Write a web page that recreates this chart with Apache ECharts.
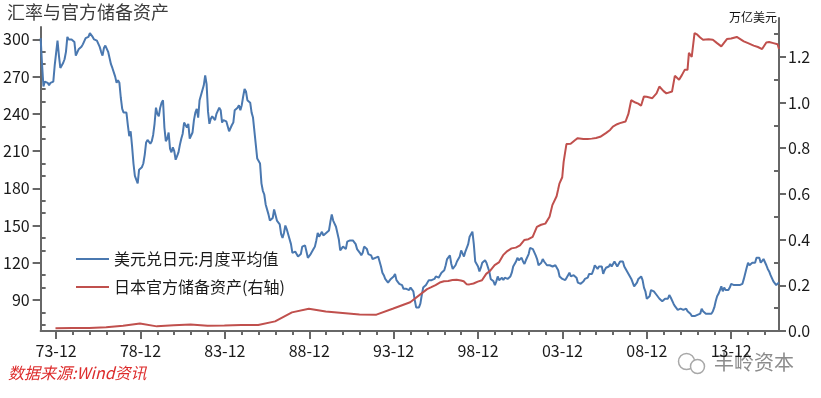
<!DOCTYPE html>
<html>
<head>
<meta charset="utf-8">
<script src="https://cdn.jsdelivr.net/npm/echarts@6/dist/echarts.min.js"></script>
<style>
  html, body { margin: 0; padding: 0; background: #fff; }
  #chart { width: 821px; height: 398px; }
</style>
</head>
<body>
<div id="chart"></div>
<script>
// 月度类目 1973-01 ~ 2016-10
const firstYear = 1973
const lastYear = 2016
const lastMonthOfLastYear = 10
const months = []
for (let y = firstYear; y <= lastYear; y++) {
  for (let m = 1; m <= 12; m++) {
    if (y === lastYear && m > lastMonthOfLastYear) break
    months.push(y + '-' + (m < 10 ? '0' + m : m))
  }
}

// 美元兑日元:月度平均值 (每行一年)
const usdJpy = [].concat(
  [301, 280, 262, 266, 265, 265, 263, 265, 266, 266, 279, 280],
  [299, 287, 277, 279, 281, 284, 290, 302, 300, 299, 300, 300],
  [298, 287, 287, 292, 291, 294, 296, 297, 301, 302, 302, 305],
  [304, 302, 300, 299, 299, 298, 294, 290, 287, 293, 295, 295],
  [290, 285, 280, 277, 277, 270, 265, 267, 265, 253, 244, 241],
  [242, 241, 231, 222, 226, 214, 200, 190, 189, 184, 195, 196],
  [197, 200, 207, 217, 219, 218, 216, 218, 223, 232, 245, 240],
  [238, 245, 249, 251, 229, 218, 220, 225, 212, 209, 213, 210],
  [203, 206, 209, 215, 220, 224, 233, 234, 229, 232, 220, 219],
  [225, 235, 241, 244, 237, 251, 255, 259, 263, 271, 264, 242],
  [232, 236, 238, 238, 235, 240, 240, 245, 243, 233, 235, 234],
  [234, 233, 226, 225, 231, 233, 243, 242, 245, 247, 243, 247],
  [254, 260, 258, 251, 251, 249, 241, 237, 237, 215, 204, 203],
  [200, 184, 178, 175, 167, 167, 159, 154, 155, 156, 163, 162],
  [154, 154, 151, 143, 140, 144, 150, 147, 143, 143, 135, 128],
  [127, 129, 128, 125, 125, 127, 133, 133, 134, 129, 124, 123],
  [127, 128, 131, 133, 138, 144, 141, 141, 145, 142, 143, 144],
  [145, 146, 153, 159, 154, 153, 149, 148, 139, 130, 129, 133],
  [134, 131, 137, 137, 138, 139, 138, 137, 135, 131, 130, 128],
  [126, 128, 133, 133, 131, 127, 126, 126, 123, 122, 124, 124],
  [125, 121, 117, 112, 110, 107, 108, 104, 105, 107, 108, 109],
  [111, 106, 105, 103, 104, 102, 99, 100, 99, 98, 98, 100],
  [99, 97, 90, 84, 85, 84, 87, 94, 100, 101, 102, 102],
  [106, 105, 106, 107, 107, 109, 109, 108, 110, 112, 112, 114],
  [118, 123, 122, 126, 119, 115, 115, 118, 121, 121, 125, 130],
  [129, 125, 129, 132, 135, 141, 141, 145, 135, 121, 121, 117],
  [113, 116, 120, 120, 122, 120, 120, 113, 107, 106, 105, 102],
  [105, 109, 106, 106, 108, 106, 108, 108, 107, 108, 109, 112],
  [117, 116, 121, 124, 122, 122, 124, 121, 119, 122, 122, 127],
  [132, 133, 131, 130, 126, 123, 118, 119, 120, 123, 121, 122],
  [118, 119, 118, 119, 117, 118, 118, 118, 114, 109, 109, 107],
  [106, 106, 108, 107, 112, 109, 109, 110, 110, 108, 104, 103],
  [103, 104, 105, 107, 106, 108, 111, 110, 111, 114, 118, 118],
  [115, 117, 117, 117, 111, 114, 116, 116, 117, 119, 117, 117],
  [121, 120, 117, 119, 121, 122, 121, 117, 115, 116, 111, 112],
  [107, 107, 101, 102, 104, 107, 106, 109, 106, 100, 97, 91],
  [90, 93, 98, 99, 97, 96, 94, 95, 91, 90, 89, 90],
  [91, 90, 91, 94, 92, 91, 87, 85, 85, 82, 83, 83],
  [82, 82, 81, 83, 81, 80, 79, 77, 77, 77, 77, 78],
  [77, 79, 83, 81, 80, 79, 79, 79, 78, 79, 81, 84],
  [89, 93, 95, 98, 101, 97, 100, 98, 99, 98, 100, 103],
  [104, 102, 102, 102, 102, 102, 102, 103, 107, 108, 116, 120],
  [118, 119, 120, 120, 120, 124, 123, 124, 120, 120, 123, 122],
  [118, 115, 113, 110, 109, 105, 104, 102, 102, 104]
)

// 日本官方储备资产(右轴), 万亿美元
const reserveMonths = [
  '1973-12', '1974-12', '1975-12', '1976-12', '1977-12', '1978-12', '1979-12', '1980-12',
  '1981-12', '1982-12', '1983-12', '1984-12', '1985-12', '1986-12', '1987-12', '1988-12',
  '1989-12', '1990-12', '1991-12', '1992-12', '1993-12', '1994-12', '1995-12',
  '1996-03', '1996-06', '1996-09', '1996-12', '1997-03', '1997-06', '1997-09', '1997-12',
  '1998-02', '1998-04', '1998-06', '1998-09', '1998-12', '1999-03', '1999-06', '1999-09',
  '1999-12', '2000-03', '2000-06', '2000-09', '2000-12', '2001-03', '2001-06', '2001-09',
  '2001-12', '2002-03', '2002-06', '2002-09', '2002-12', '2003-03', '2003-05', '2003-08',
  '2003-09', '2003-10', '2003-12', '2004-01', '2004-02', '2004-03', '2004-06', '2004-09',
  '2004-11', '2005-03', '2005-06', '2005-09', '2005-12', '2006-03', '2006-07', '2006-10',
  '2006-12', '2007-03', '2007-05', '2007-09', '2007-11', '2008-01', '2008-04', '2008-06',
  '2008-08', '2008-10', '2008-12', '2009-04', '2009-07', '2009-09', '2009-12', '2010-02',
  '2010-06', '2010-08', '2010-11', '2011-01', '2011-03', '2011-05', '2011-06', '2011-08',
  '2011-10', '2011-12', '2012-02', '2012-04', '2012-08', '2012-11', '2013-02', '2013-05',
  '2013-09', '2013-12', '2014-04', '2014-09', '2014-12', '2015-04', '2015-07', '2015-10',
  '2016-01', '2016-03', '2016-06', '2016-09', '2016-10'
]
const reserveValues = [
  0.012, 0.0135, 0.0128, 0.0166, 0.0233, 0.033, 0.0203, 0.0252,
  0.0284, 0.0233, 0.0245, 0.0263, 0.0265, 0.0422, 0.0815, 0.0977,
  0.0849, 0.0785, 0.0721, 0.0716, 0.0985, 0.1259, 0.1833,
  0.192, 0.201, 0.212, 0.218, 0.219, 0.223, 0.224, 0.221,
  0.218, 0.205, 0.204, 0.208, 0.216, 0.222, 0.25, 0.265,
  0.288, 0.3, 0.332, 0.35, 0.3616, 0.365, 0.375, 0.398,
  0.402, 0.412, 0.456, 0.465, 0.47, 0.5, 0.551, 0.59,
  0.617, 0.645, 0.673, 0.74, 0.78, 0.818, 0.82, 0.835,
  0.844, 0.84, 0.84, 0.842, 0.845, 0.85, 0.866, 0.88,
  0.895, 0.905, 0.91, 0.917, 0.95, 1.01, 1.0, 0.995,
  0.986, 1.026, 1.025, 1.019, 1.04, 1.07, 1.05, 1.04,
  1.048, 1.117, 1.1, 1.12, 1.143, 1.143, 1.217, 1.2,
  1.304, 1.297, 1.285, 1.275, 1.277, 1.275, 1.26, 1.246,
  1.278, 1.28, 1.287, 1.268, 1.26, 1.249, 1.243, 1.234,
  1.263, 1.265, 1.26, 1.255, 1.234
]

// 刻度
const leftLabels = [90, 120, 150, 180, 210, 240, 270, 300]
const leftMinor = [70, 80, 100, 110, 130, 140, 160, 170, 190, 200, 220, 230, 250, 260, 280, 290]
const rightLabels = [0, 0.2, 0.4, 0.6, 0.8, 1.0, 1.2]
const rightMinor = [0.1, 0.3, 0.5, 0.7, 0.9, 1.1, 1.3]

const FONT = 'Noto Sans CJK SC'
const AXIS = '#676767'
const BLUE = '#4a78b0'
const RED = '#c0504d'

const chart = echarts.init(document.getElementById('chart'))

const gridPos = { left: 40, right: 42, bottom: 67 }

chart.setOption({
  animation: false,
  textStyle: { fontFamily: FONT },
  grid: [
    Object.assign({ top: 27 }, gridPos),
    Object.assign({ top: 18 }, gridPos)
  ],
  legend: {
    orient: 'vertical',
    left: 71,
    top: 246,
    icon: 'rect',
    itemWidth: 33,
    itemHeight: 2,
    itemGap: 12,
    textStyle: { fontSize: 16, color: '#1a1a1a', fontFamily: FONT },
    data: ['美元兑日元:月度平均值', '日本官方储备资产(右轴)']
  },
  xAxis: [
    {
      gridIndex: 0,
      type: 'category',
      data: months,
      boundaryGap: false,
      axisLine: { lineStyle: { color: AXIS, width: 2 } },
      axisTick: {
        interval: (i) => i % 60 === 11,
        length: 8,
        lineStyle: { color: AXIS, width: 2 }
      },
      axisLabel: {
        interval: (i) => i % 60 === 11,
        formatter: (v) => v.slice(2),
        fontSize: 16,
        color: '#1a1a1a',
        margin: 12
      },
      splitLine: { show: false }
    },
    {
      gridIndex: 0,
      type: 'category',
      position: 'bottom',
      offset: 0,
      data: months,
      boundaryGap: false,
      axisLine: { show: false },
      axisTick: {
        interval: (i) => i % 12 === 11 && i % 60 !== 11,
        length: 4,
        lineStyle: { color: AXIS, width: 2 }
      },
      axisLabel: { show: false },
      splitLine: { show: false }
    },
    {
      gridIndex: 1,
      type: 'category',
      data: months,
      boundaryGap: false,
      show: false
    }
  ],
  yAxis: [
    {
      gridIndex: 0,
      type: 'value',
      position: 'left',
      min: 65,
      max: 310,
      splitLine: { show: false },
      axisLine: { show: true, lineStyle: { color: AXIS, width: 2 } },
      axisTick: {
        show: true,
        customValues: leftLabels,
        length: 8,
        lineStyle: { color: AXIS, width: 2 }
      },
      axisLabel: {
        customValues: leftLabels,
        fontSize: 16,
        color: '#1a1a1a',
        margin: 11
      }
    },
    {
      gridIndex: 1,
      type: 'value',
      position: 'right',
      min: 0,
      max: 1.37,
      splitLine: { show: false },
      axisLine: { show: true, lineStyle: { color: AXIS, width: 2 } },
      axisTick: {
        show: true,
        customValues: rightLabels,
        length: 7,
        lineStyle: { color: AXIS, width: 2 }
      },
      axisLabel: {
        customValues: rightLabels,
        formatter: (v) => v.toFixed(1),
        fontSize: 16,
        color: '#1a1a1a',
        margin: 9
      }
    },
    {
      gridIndex: 0,
      type: 'value',
      position: 'left',
      offset: 0,
      min: 65,
      max: 310,
      splitLine: { show: false },
      axisLine: { show: false },
      axisLabel: { show: false },
      axisTick: {
        show: true,
        inside: true,
        customValues: leftMinor,
        length: 5,
        lineStyle: { color: AXIS, width: 2 }
      }
    },
    {
      gridIndex: 1,
      type: 'value',
      position: 'right',
      offset: 0,
      min: 0,
      max: 1.37,
      splitLine: { show: false },
      axisLine: { show: false },
      axisLabel: { show: false },
      axisTick: {
        show: true,
        inside: true,
        customValues: rightMinor,
        length: 5,
        lineStyle: { color: AXIS, width: 2 }
      }
    }
  ],
  series: [
    {
      name: '美元兑日元:月度平均值',
      type: 'line',
      xAxisIndex: 0,
      yAxisIndex: 0,
      data: usdJpy,
      symbol: 'none',
      lineStyle: { color: BLUE, width: 2 },
      itemStyle: { color: BLUE }
    },
    {
      name: '日本官方储备资产(右轴)',
      type: 'line',
      xAxisIndex: 2,
      yAxisIndex: 1,
      data: reserveMonths.map((m, i) => [m, reserveValues[i]]),
      symbol: 'none',
      lineStyle: { color: RED, width: 2 },
      itemStyle: { color: RED }
    }
  ],
  graphic: [
    {
      type: 'text', left: 7, top: 3,
      style: { text: '汇率与官方储备资产', fontSize: 18, fontFamily: FONT, fill: '#3c3c3c' }
    },
    {
      type: 'text', right: 44, top: 11,
      style: { text: '万亿美元', fontSize: 12, fontFamily: FONT, fill: '#111' }
    },
    {
      type: 'text', left: 8, top: 365,
      style: { text: '数据来源:Wind资讯', fontSize: 16, fontStyle: 'italic', fontFamily: FONT, fill: '#dd2c2c' }
    },
    {
      type: 'group', left: 676, top: 351,
      children: [
        { type: 'circle', shape: { cx: 10, cy: 9, r: 8 }, style: { fill: 'none', stroke: '#a8a8a8', lineWidth: 1.5 } },
        { type: 'circle', shape: { cx: 21, cy: 14, r: 7 }, style: { fill: '#fff', stroke: '#a8a8a8', lineWidth: 1.5 } }
      ]
    },
    {
      type: 'text', left: 714, top: 352,
      style: { text: '丰岭资本', fontSize: 20, fontFamily: FONT, fill: '#8c8c8c' }
    }
  ]
})
</script>
</body>
</html>
